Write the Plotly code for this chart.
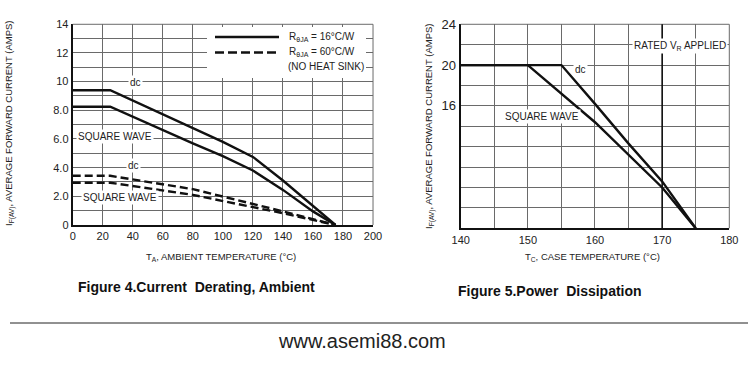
import plotly.graph_objects as go

# ---------------- data: Figure 4 (ambient derating) ----------------
ta_dc_16 = [0, 25, 100, 120, 140, 160, 175]
if_dc_16 = [9.4, 9.4, 5.8, 4.75, 3.1, 1.3, 0]
ta_sq_16 = [0, 25, 80, 100, 120, 140, 160, 175]
if_sq_16 = [8.25, 8.25, 5.7, 4.8, 3.8, 2.45, 0.95, 0]
ta_dc_60 = [0, 25, 80, 120, 140, 175]
if_dc_60 = [3.43, 3.43, 2.5, 1.5, 0.95, 0]
ta_sq_60 = [0, 25, 80, 120, 140, 175]
if_sq_60 = [2.95, 2.95, 2.1, 1.23, 0.82, 0]
f4_xticks = [0, 20, 40, 60, 80, 100, 120, 140, 160, 180, 200]
f4_yticks = [0, 2, 4, 6, 8, 10, 12, 14]
f4_yticktext = ["0", "2.0", "4.0", "6.0", "8.0", "10", "12", "14"]

# ---------------- data: Figure 5 (case temperature) ----------------
tc_dc = [140, 155, 160, 165, 170, 175]
if_dc = [20, 20, 16.2, 12.3, 8.6, 4]
tc_sq = [140, 150, 160, 170, 175]
if_sq = [20, 20, 14.4, 8.0, 4]
f5_xticks = [140, 150, 160, 170, 180]
f5_yticks = [16, 20, 24]
f5_marked_line = 170

FONT = "Liberation Sans, Arial, sans-serif"
GRID = "#6a6a6a"
INK = "#111111"

fig = go.Figure()
solid = dict(color=INK, width=2.4)
dashed = dict(color=INK, width=2.4, dash="8px,4px")
fig.add_trace(go.Scatter(x=ta_dc_16, y=if_dc_16, mode="lines", line=solid, xaxis="x", yaxis="y"))
fig.add_trace(go.Scatter(x=ta_sq_16, y=if_sq_16, mode="lines", line=solid, xaxis="x", yaxis="y"))
fig.add_trace(go.Scatter(x=ta_dc_60, y=if_dc_60, mode="lines", line=dashed, xaxis="x", yaxis="y"))
fig.add_trace(go.Scatter(x=ta_sq_60, y=if_sq_60, mode="lines", line=dashed, xaxis="x", yaxis="y"))
fig.add_trace(go.Scatter(x=tc_dc, y=if_dc, mode="lines", line=dict(color=INK, width=2.4), xaxis="x2", yaxis="y2"))
fig.add_trace(go.Scatter(x=tc_sq, y=if_sq, mode="lines", line=dict(color=INK, width=2.4), xaxis="x2", yaxis="y2"))

tickfont = dict(family=FONT, size=11, color="#222")
axcommon = dict(showgrid=True, gridcolor=GRID, gridwidth=1, zeroline=False,
                showline=True, linecolor=INK, linewidth=2, mirror=False,
                ticks="", tickfont=tickfont, fixedrange=True, automargin=False)

fig.update_layout(
    width=748, height=368,
    margin=dict(l=0, r=0, t=0, b=0, autoexpand=False),
    paper_bgcolor="white", plot_bgcolor="white",
    showlegend=False,
    xaxis=dict(domain=[0.0972, 0.4987], range=[0, 200], tickvals=f4_xticks,
               anchor="y", **axcommon),
    yaxis=dict(domain=[0.3886, 0.934], range=[0, 14], tickvals=f4_yticks,
               ticktext=f4_yticktext, anchor="x",
               minor=dict(dtick=1, showgrid=True, gridcolor=GRID, gridwidth=1),
               **axcommon),
    xaxis2=dict(domain=[0.6159, 0.975], range=[140, 180], tickvals=f5_xticks,
                anchor="y2",
                minor=dict(dtick=5, showgrid=True, gridcolor=GRID, gridwidth=1),
                **axcommon),
    yaxis2=dict(domain=[0.3796, 0.934], range=[4, 24], tickvals=f5_yticks,
                anchor="x2",
                minor=dict(dtick=2, tick0=0, showgrid=True, gridcolor=GRID, gridwidth=1),
                **dict(axcommon, tickfont=dict(family=FONT, size=13, color="#222"))),
)

# frame top/right lines (grey)
for xr, yr in (("x domain", "y domain"), ("x2 domain", "y2 domain")):
    fig.add_shape(type="line", xref=xr, yref=yr, x0=0, x1=1, y0=1, y1=1,
                  line=dict(color=GRID, width=1))
    fig.add_shape(type="line", xref=xr, yref=yr, x0=1, x1=1, y0=0, y1=1,
                  line=dict(color=GRID, width=1))

# dark vertical line in figure 5
fig.add_shape(type="line", xref="x2", yref="y2 domain", x0=f5_marked_line, x1=f5_marked_line,
              y0=0, y1=1, line=dict(color=INK, width=1.6), layer="above")

# legend box inside figure 4
fig.add_shape(type="rect", xref="paper", yref="paper",
              x0=207/748, x1=366/748, y0=1-78/368, y1=1-27/368,
              fillcolor="white", line=dict(width=0), layer="above")
fig.add_shape(type="line", xref="paper", yref="paper",
              x0=215/748, x1=279/748, y0=1-37/368, y1=1-37/368,
              line=dict(color=INK, width=2.6), layer="above")
fig.add_shape(type="line", xref="paper", yref="paper",
              x0=215/748, x1=279/748, y0=1-52.5/368, y1=1-52.5/368,
              line=dict(color=INK, width=2.6, dash="9px,4px"), layer="above")

small = dict(family=FONT, size=10, color="#222")

def ann(text, x, y, xref="paper", yref="paper", font=small, bg=None, angle=0, xanchor="center"):
    fig.add_annotation(text=text, x=x, y=y, xref=xref, yref=yref, showarrow=False,
                       font=font, bgcolor=bg, textangle=angle, xanchor=xanchor,
                       yanchor="middle", borderpad=1)

ann("R<sub>θJA</sub> = 16°C/W", 287/748, 1-37/368, xanchor="left")
ann("R<sub>θJA</sub> = 60°C/W", 287/748, 1-52/368, xanchor="left")
ann("(NO HEAT SINK)", 286/748, 1-66/368, xanchor="left")

# curve labels fig 4
ann("dc", 135/748, 1-82/368, bg="white")
ann("SQUARE WAVE", 115/748, 1-136/368, bg="white")
ann("dc", 133/748, 1-165/368, bg="white")
ann("SQUARE WAVE", 120/748, 1-198/368, bg="white")

# curve labels fig 5
ann("dc", 580/748, 1-69/368, bg="white")
ann("SQUARE WAVE", 542/748, 1-116/368, bg="white")
ann("RATED V<sub>R</sub> APPLIED", 680/748, 1-46/368, bg="white")

# axis titles
ttl = dict(family=FONT, size=9.5, color="#222")
ann("I<sub>F(AV)</sub>, AVERAGE FORWARD CURRENT (AMPS)", 10/748, 1-124/368, angle=-90, font=ttl)
ann("I<sub>F(AV)</sub>, AVERAGE FORWARD CURRENT (AMPS)", 429/748, 1-126/368, angle=-90, font=ttl)
xt = dict(family=FONT, size=9.5, color="#222")
ann("T<sub>A</sub>, AMBIENT TEMPERATURE (°C)", 221/748, 1-257/368, font=xt)
ann("T<sub>C</sub>, CASE TEMPERATURE (°C)", 592/748, 1-257/368, font=xt)

# captions
cap = dict(family=FONT, size=14, color="#111")
ann("<b>Figure 4.Current\u00a0 Derating, Ambient</b>", 196/748, 1-287/368, font=cap)
ann("<b>Figure 5.Power\u00a0 Dissipation</b>", 550/748, 1-291/368, font=cap)

fig.add_shape(type="line", xref="paper", yref="paper", x0=10/748, x1=1,
              y0=1-323/368, y1=1-323/368, line=dict(color="#222", width=1))
ann("www.asemi88.com", 362/748, 1-341/368, font=dict(family=FONT, size=20, color="#222"))

fig.write_html("out.html", config={"displayModeBar": False},
               post_script="document.body.style.margin='0';document.body.style.overflow='hidden';")
